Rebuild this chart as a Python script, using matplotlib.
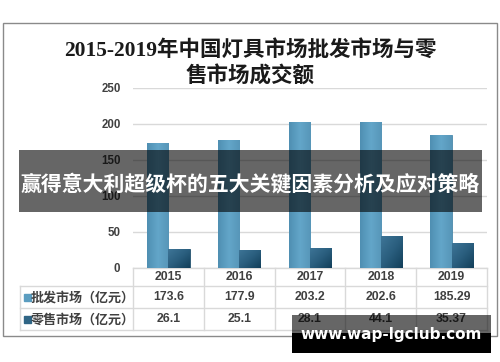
import matplotlib
matplotlib.use("Agg")
import matplotlib.pyplot as plt
from matplotlib.patches import Rectangle
from matplotlib.colors import LinearSegmentedColormap
import numpy as np

years = ["2015", "2016", "2017", "2018", "2019"]
wholesale = [173.6, 177.9, 203.2, 202.6, 185.29]
retail = [26.1, 25.1, 28.1, 44.1, 35.37]
wholesale_labels = ["173.6", "177.9", "203.2", "202.6", "185.29"]
retail_labels = ["26.1", "25.1", "28.1", "44.1", "35.37"]
series_names = ["批发市场（亿元）", "零售市场（亿元）"]
yticks = [0, 50, 100, 150, 200, 250]
title_lines = ["2015-2019年中国灯具市场批发市场与零", "售市场成交额"]
banner = "赢得意大利超级杯的五大关键因素分析及应对策略"
watermark = "www.wap-lgclub.com"

W, H = 500, 362
fig = plt.figure(figsize=(5.0, 3.62), dpi=100)
fig.patch.set_facecolor("white")

CJK = ["Noto Sans CJK SC", "DejaVu Sans"]
TITLE = ["Liberation Serif", "Noto Sans CJK SC"]
NUM = ["Liberation Sans", "Noto Sans CJK SC"]

# overlay axes in pixel coords
ov = fig.add_axes([0, 0, 1, 1], zorder=0)
ov.set_xlim(0, W)
ov.set_ylim(H, 0)
ov.axis("off")

# frame
ov.add_patch(Rectangle((3, 23), 494, 313, fill=False, ec="#8a8a8a", lw=1.0))

# data axes
L, R, T, B = 133, 487, 88, 268
ax = fig.add_axes([L / W, 1 - B / H, (R - L) / W, (B - T) / H], zorder=1)
ax.patch.set_alpha(0)
x = np.arange(len(years))
bw = 0.3
c1, c2 = "#5B9DC0", "#2F6585"
bars1 = ax.bar(x - bw / 2, wholesale, bw, color=c1, edgecolor="#4A88AA", lw=0.6, zorder=3)
bars2 = ax.bar(x + bw / 2, retail, bw, color=c2, edgecolor="#24526E", lw=0.6, zorder=3)
ax.set_xlim(-0.5, len(years) - 0.5)
ax.set_ylim(0, 250)

# subtle gradients clipped to bars
g1 = LinearSegmentedColormap.from_list("g1", ["#4F8FB2", "#63A6C9", "#5796B8"])
g2 = LinearSegmentedColormap.from_list("g2", ["#3E7597", "#2A5E7E", "#123F5A"])
grad = np.linspace(0, 1, 64).reshape(1, -1)
diag = (np.linspace(0, 1, 32)[None, :] + np.linspace(0, 1, 32)[:, None]) / 2
for b in bars1:
    im = ax.imshow(grad, extent=[b.get_x(), b.get_x() + b.get_width(), 0, b.get_height()],
                   cmap=g1, aspect="auto", zorder=3.5, origin="lower")
    im.set_clip_path(b)
for b in bars2:
    im = ax.imshow(diag, extent=[b.get_x(), b.get_x() + b.get_width(), 0, b.get_height()],
                   cmap=g2, aspect="auto", zorder=3.5, origin="upper")
    im.set_clip_path(b)
ax.set_xlim(-0.5, len(years) - 0.5)
ax.set_ylim(0, 250)

ax.set_yticks(yticks)
ax.yaxis.grid(True, color="#D9D9D9", lw=1.0, zorder=0)
ax.set_xticks([])
for s in ax.spines.values():
    s.set_visible(False)
ax.tick_params(axis="y", length=0, pad=9, labelcolor="#404040")
for lab in ax.get_yticklabels():
    lab.set_family(NUM)
    lab.set_fontweight("bold")
    lab.set_fontsize(8.3)

# title
ov.text(250, 50, title_lines[0], ha="center", va="center", fontsize=15.5,
        fontweight="bold", family=TITLE, color="#1a1a1a")
ov.text(250, 77, title_lines[1], ha="center", va="center", fontsize=15.5,
        fontweight="bold", family=TITLE, color="#1a1a1a")

# table
lc = "#D9D9D9"
colw = (R - L) / len(years)
rows_y = [268, 286, 308, 330]
ov.plot([L, R], [268, 268], color=lc, lw=1)
for yy in rows_y[1:]:
    ov.plot([20, R], [yy, yy], color=lc, lw=1)
ov.plot([20, 20], [286, 330], color=lc, lw=1)
for k in range(len(years) + 1):
    xx = L + k * colw
    ov.plot([xx, xx], [268, 330], color=lc, lw=1)
tc = "#404040"
for i, yr in enumerate(years):
    cx = L + (i + 0.5) * colw
    ov.text(cx, 277.5, yr, ha="center", va="center", fontsize=8.8,
            fontweight="bold", family=NUM, color=tc)
    ov.text(cx, 297.5, wholesale_labels[i], ha="center", va="center", fontsize=8.8,
            fontweight="bold", family=NUM, color=tc)
    ov.text(cx, 319.5, retail_labels[i], ha="center", va="center", fontsize=8.8,
            fontweight="bold", family=NUM, color=tc)
for yy, name, col in [(297.5, series_names[0], c1), (319.5, series_names[1], c2)]:
    ov.add_patch(Rectangle((23.5, yy - 3.5), 7, 7, color=col))
    ov.text(30.5, yy, name, ha="left", va="center", fontsize=9.4,
            fontweight="bold", family=CJK, color=tc)

# banner overlay
top = fig.add_axes([0, 0, 1, 1], zorder=5)
top.set_xlim(0, W)
top.set_ylim(H, 0)
top.axis("off")
top.patch.set_alpha(0)
top.add_patch(Rectangle((19, 150), 463, 62, color="black", alpha=0.6, lw=0))
top.text(250, 184, banner, ha="center", va="center", fontsize=15,
         fontweight="bold", family=CJK, color="white")

# watermark
top.add_patch(Rectangle((292, 315), 199, 18, color="black", alpha=0.6, lw=0))
top.add_patch(Rectangle((292, 333), 199, 20, color="black", lw=0))
top.text(391, 335, watermark, ha="center", va="center", fontsize=11,
         fontweight="bold", family=["DejaVu Sans"], color="white")

fig.savefig("out.png", dpi=100)
